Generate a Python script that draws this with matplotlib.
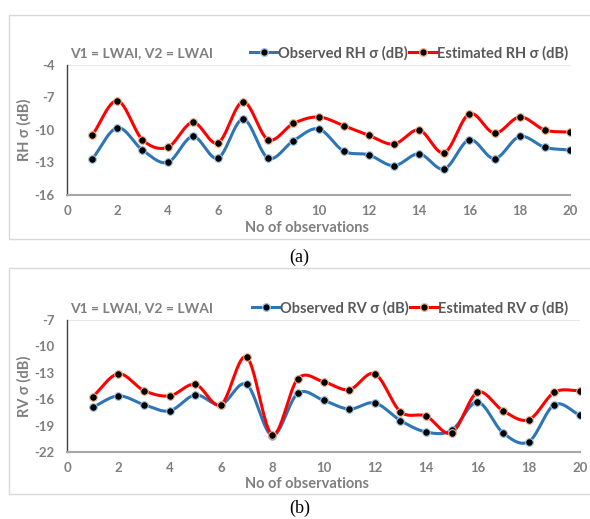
"""
Observed vs estimated RH / RV backscatter (LWAI, LWAI) - two panels
"""

import numpy as np
import matplotlib
matplotlib.use("Agg")
import matplotlib.pyplot as plt
from matplotlib.lines import Line2D
from matplotlib.patches import Rectangle

plt.rcParams["axes.unicode_minus"] = False

# ── Data ───────────────────────────────────────────────────────────────────
obs_no = list(range(1, 21))

rh_observed = [-12.7, -9.8, -11.85, -13.0, -10.6, -12.6, -9.0, -12.6, -11.0, -9.9,
               -11.95, -12.3, -13.3, -12.2, -13.6, -10.9, -12.65, -10.6, -11.6, -11.85]
rh_estimated = [-10.5, -7.3, -10.9, -11.6, -9.3, -11.2, -7.4, -10.9, -9.4, -8.8,
                -9.6, -10.5, -11.3, -10.0, -12.1, -8.5, -10.3, -8.8, -10.0, -10.2]

rv_observed = [-16.9, -15.6, -16.6, -17.3, -15.5, -16.6, -14.3, -20.1, -15.3, -16.1,
               -17.1, -16.4, -18.4, -19.7, -19.5, -16.3, -19.8, -20.8, -16.6, -17.8]
rv_estimated = [-15.7, -13.1, -15.0, -15.6, -14.3, -16.6, -11.2, -20.0, -13.65, -14.0,
                -14.9, -13.1, -17.4, -17.9, -19.8, -15.2, -17.3, -18.3, -15.2, -15.0]

x_ticks = [0, 2, 4, 6, 8, 10, 12, 14, 16, 18, 20]
rh_yticks = [-16, -13, -10, -7, -4]
rv_yticks = [-22, -19, -16, -13, -10, -7]

# ── Style ──────────────────────────────────────────────────────────────────
FONT = "Lato"
GRAY = "#7f7f7f"
DGRAY = "#595959"
BLUE = "#2e75b6"
RED = "#ff0000"
BOX = "#d9d9d9"
FS = 10.5


def smooth(xs, ys, n=24):
    """Catmull-Rom curve through the points (like Excel smoothed lines)."""
    xs = np.asarray(xs, float)
    ys = np.asarray(ys, float)
    px = np.concatenate([[2 * xs[0] - xs[1]], xs, [2 * xs[-1] - xs[-2]]])
    py = np.concatenate([[2 * ys[0] - ys[1]], ys, [2 * ys[-1] - ys[-2]]])
    t = np.linspace(0, 1, n, endpoint=False)
    ox, oy = [], []
    for i in range(1, len(px) - 2):
        for arr, out in ((px, ox), (py, oy)):
            p0, p1, p2, p3 = arr[i - 1], arr[i], arr[i + 1], arr[i + 2]
            out.extend(0.5 * (2 * p1 + (-p0 + p2) * t
                              + (2 * p0 - 5 * p1 + 4 * p2 - p3) * t ** 2
                              + (-p0 + 3 * p1 - 3 * p2 + p3) * t ** 3))
    ox.append(xs[-1])
    oy.append(ys[-1])
    return np.array(ox), np.array(oy)


fig = plt.figure(figsize=(5.9, 5.19), dpi=100, facecolor="white")


def panel(rect, box, obs, est, yticks, ylabel, name, xlab_y, cap, cap_y):
    # light frame around the chart area
    fig.patches.append(Rectangle((box[0], box[1]), box[2], box[3],
                                 transform=fig.transFigure, fill=False,
                                 edgecolor=BOX, linewidth=1.0))
    ax = fig.add_axes(rect)
    ax.set_xlim(0, 20)
    ax.set_ylim(yticks[0], yticks[-1])
    ax.set_xticks(x_ticks)
    ax.set_yticks(yticks)
    for sp in ("top", "right"):
        ax.spines[sp].set_visible(False)
    ax.spines["left"].set_color("#404040")
    ax.spines["bottom"].set_color("#a6a6a6")
    ax.spines["left"].set_linewidth(1.0)
    ax.spines["bottom"].set_linewidth(1.5)
    ax.axhline(yticks[-1], color="#e8e8e8", linewidth=0.8)
    ax.tick_params(axis="y", length=0, pad=9, labelsize=9.5, labelcolor=GRAY)
    ax.tick_params(axis="x", length=0, pad=7, labelsize=9.5, labelcolor=GRAY)
    for lab in ax.get_xticklabels() + ax.get_yticklabels():
        lab.set_fontweight("bold")
        lab.set_fontfamily(FONT)
    ax.set_ylabel(ylabel, fontsize=FS, color=GRAY, fontweight="bold",
                  family=FONT, labelpad=2)

    sx, sy = smooth(obs_no, obs)
    ax.plot(sx, sy, color=BLUE, linewidth=2.2, zorder=2)
    ax.plot(obs_no, obs, "o", color="black", markersize=5.5,
            markeredgecolor="#9dc3e6", markeredgewidth=0.8, zorder=4)
    ex, ey = smooth(obs_no, est)
    ax.plot(ex, ey, color=RED, linewidth=2.2, zorder=3)
    ax.plot(obs_no, est, "o", color="black", markersize=5.5,
            markeredgecolor="#f4b183", markeredgewidth=0.8, zorder=5)

    h_obs = Line2D([], [], color=BLUE, linewidth=2.2, marker="o", markersize=5.5,
                   markerfacecolor="black", markeredgecolor="#9dc3e6")
    h_est = Line2D([], [], color=RED, linewidth=2.2, marker="o", markersize=5.5,
                   markerfacecolor="black", markeredgecolor="#f4b183")
    leg = ax.legend([h_obs, h_est],
                    [f"Observed {name} σ (dB)", f"Estimated {name} σ (dB)"],
                    ncol=2, frameon=False, loc="center right",
                    bbox_to_anchor=(0.985, rect[1] + rect[3] + 0.023),
                    bbox_transform=fig.transFigure, handlelength=1.9,
                    handletextpad=0.0, columnspacing=0.1,
                    prop={"family": FONT, "weight": "bold", "size": FS})
    for txt in leg.get_texts():
        txt.set_color(DGRAY)
    fig.text(0.118, rect[1] + rect[3] + 0.023, "V1 = LWAI, V2 = LWAI",
             fontsize=10, color=GRAY, fontweight="bold", family=FONT,
             va="center", ha="left")
    fig.text(0.52, xlab_y, "No of observations", fontsize=FS, color=GRAY,
             fontweight="bold", family=FONT, ha="center", va="center")
    fig.text(0.508, cap_y, cap, fontsize=13, color="black",
             family="Liberation Serif", ha="center", va="center")
    return ax


panel([0.1136, 0.6243, 0.8525, 0.2505], [0.0153, 0.5395, 1.0, 0.4316],
      rh_observed, rh_estimated, rh_yticks, "RH σ (dB)", "RH",
      1 - 228 / 519, "(a)", 1 - 257 / 519)

panel([0.1136, 0.1285, 0.8695, 0.2549], [0.0153, 0.0482, 1.0, 0.4355],
      rv_observed, rv_estimated, rv_yticks, "RV σ (dB)", "RV",
      1 - 484 / 519, "(b)", 1 - 508 / 519)

plt.savefig("out.png", dpi=100, facecolor="white")
